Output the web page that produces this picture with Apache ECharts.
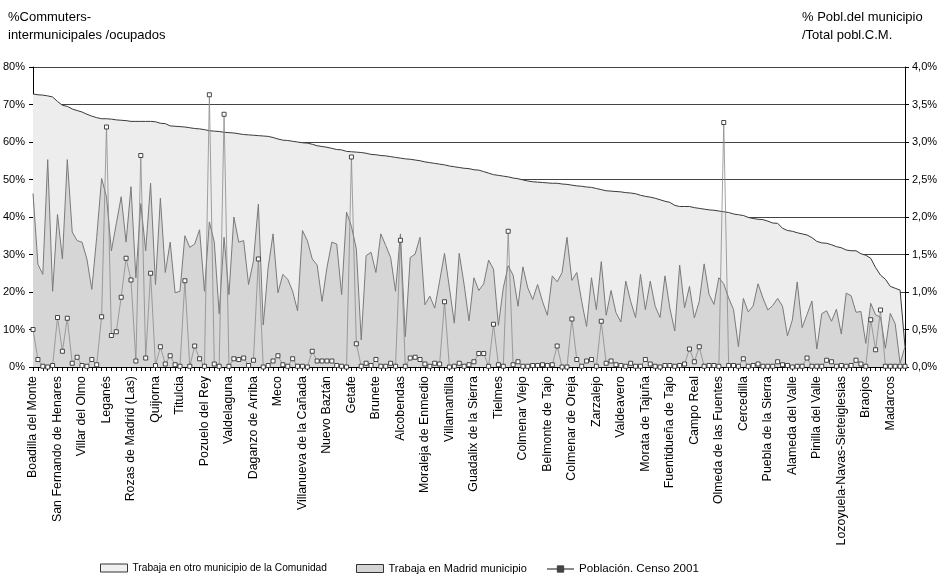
<!DOCTYPE html>
<html>
<head>
<meta charset="utf-8">
<script src="https://cdn.jsdelivr.net/npm/echarts@6/dist/echarts.min.js"></script>
<style>
html,body{margin:0;padding:0;background:#fff;}
#chart{width:941px;height:576px;}
</style>
</head>
<body>
<div id="chart"></div>
<script>
// Labels shown on the x axis (every 5th municipality)
const labels = ['Boadilla del Monte','San Fernando de Henares','Villar del Olmo','Leganés','Rozas de Madrid (Las)','Quijorna','Titulcia','Pozuelo del Rey','Valdelaguna','Daganzo de Arriba','Meco','Villanueva de la Cañada','Nuevo Baztán','Getafe','Brunete','Alcobendas','Moraleja de Enmedio','Villamantilla','Guadalix de la Sierra','Tielmes','Colmenar Viejo','Belmonte de Tajo','Colmenar de Oreja','Zarzalejo','Valdeavero','Morata de Tajuña','Fuentidueña de Tajo','Campo Real','Olmeda de las Fuentes','Cercedilla','Puebla de la Sierra','Alameda del Valle','Pinilla del Valle','Lozoyuela-Navas-Sieteiglesias','Braojos','Madarcos'];

// % commuters intermunicipales / ocupados (total, top line)
const total = [
72.8,72.6,72.5,72.3,72.0,70.8,69.8,69.5,68.8,68.4,
68.0,67.4,66.9,66.5,66.2,66.2,66.1,65.9,65.8,65.7,
65.5,65.5,65.5,65.5,65.5,65.4,65.0,64.9,64.3,64.2,
64.1,64.0,63.8,63.6,63.5,63.3,63.0,62.9,62.8,62.6,
62.5,62.4,62.2,62.0,61.9,61.8,61.7,61.6,61.5,61.2,
60.8,60.5,60.4,60.2,60.0,59.8,59.7,59.4,59.0,58.8,
58.6,58.3,58.0,57.9,57.5,57.4,57.3,57.2,57.0,56.7,
56.6,56.4,56.3,56.1,55.9,55.7,55.5,55.4,55.2,55.0,
54.7,54.5,54.3,54.1,53.9,53.6,53.4,53.2,53.0,52.9,
52.6,52.5,52.1,51.7,51.3,51.1,50.9,50.7,50.4,50.2,
49.9,49.6,49.4,49.3,49.2,49.1,49.0,49.0,48.8,48.7,
48.5,48.3,48.2,48.0,47.9,47.6,47.3,47.0,46.9,46.8,
46.7,46.5,46.4,46.2,45.8,45.5,45.3,45.0,44.6,44.2,
43.9,43.1,42.8,42.8,42.8,42.5,42.3,42.1,41.9,41.8,
41.6,41.4,41.2,40.8,40.6,40.4,39.9,39.6,39.4,39.3,
38.9,38.4,38.3,37.0,36.4,36.2,35.8,35.5,35.2,34.5,
33.5,33.1,33.0,32.6,32.1,31.8,31.2,31.0,31.0,30.2,
29.8,29.0,26.5,24.5,23.4,21.5,21.0,20.5,5.4
];

// % trabaja en Madrid municipio
const madrid = [
46.3,27.4,24.7,55.3,20.2,40.7,28.8,55.3,36.0,33.7,
33.3,28.8,20.7,34.6,50.3,45.4,31.0,38.2,45.4,33.3,
48.1,23.8,43.6,31.0,49.0,22.0,45.0,25.2,33.3,19.8,
20.2,35.0,31.9,32.8,36.6,20.2,38.7,33.3,14.2,34.6,
19.3,40.0,33.3,33.7,22.0,28.3,43.4,11.2,26.5,35.5,
19.8,24.7,23.4,20.2,15.0,36.4,33.7,28.8,27.2,17.5,
26.5,33.3,32.8,19.3,41.3,37.5,31.5,7.2,29.7,30.6,
25.2,35.5,32.4,29.2,20.2,35.5,8.1,29.2,30.1,34.6,
16.6,18.9,15.7,22.9,30.3,21.1,11.7,30.3,22.0,12.3,
23.8,20.4,22.2,28.5,26.1,11.1,21.1,27.0,24.5,16.2,
26.7,21.1,18.0,22.0,17.5,13.8,24.3,22.7,25.2,34.6,
23.1,25.2,17.5,10.8,23.8,15.3,28.1,13.8,20.4,14.5,
12.0,22.9,17.5,13.2,24.7,15.3,22.9,16.2,13.2,24.3,
15.7,9.6,27.2,15.8,21.5,13.1,17.5,27.5,19.4,16.7,
23.8,22.2,18.4,15.3,5.4,18.3,14.7,16.3,22.2,18.4,
15.2,16.4,18.3,16.2,8.3,12.5,22.7,10.5,14.0,17.6,
4.8,14.2,15.0,12.2,15.4,8.8,19.7,19.0,14.6,14.8,
6.3,17.0,13.9,13.3,5.0,14.3,11.5,1.0,5.4
];

// % población del municipio / total población C.M. (Censo 2001)
const poblacion = [
0.50,0.10,0.01,0.00,0.02,0.66,0.21,0.65,0.05,0.13,
0.02,0.01,0.10,0.03,0.67,3.20,0.42,0.47,0.93,1.45,
1.16,0.08,2.82,0.12,1.25,0.02,0.27,0.04,0.15,0.03,
0.01,1.15,0.01,0.28,0.11,0.01,3.63,0.04,0.01,3.37,
0.01,0.11,0.10,0.12,0.02,0.09,1.44,0.00,0.02,0.08,
0.15,0.03,0.01,0.11,0.01,0.01,0.00,0.21,0.08,0.08,
0.08,0.08,0.02,0.01,0.00,2.80,0.31,0.01,0.05,0.02,
0.10,0.01,0.01,0.05,0.01,1.69,0.01,0.12,0.13,0.10,
0.04,0.01,0.05,0.04,0.87,0.00,0.01,0.05,0.01,0.03,
0.07,0.18,0.18,0.01,0.57,0.03,0.01,1.81,0.03,0.07,
0.01,0.01,0.02,0.02,0.03,0.02,0.03,0.28,0.00,0.00,
0.64,0.10,0.01,0.08,0.10,0.01,0.61,0.05,0.08,0.03,
0.02,0.01,0.05,0.01,0.01,0.10,0.04,0.01,0.00,0.02,
0.02,0.01,0.02,0.04,0.24,0.07,0.27,0.01,0.02,0.02,
0.01,3.26,0.02,0.02,0.01,0.11,0.01,0.02,0.04,0.01,
0.01,0.01,0.07,0.03,0.02,0.00,0.01,0.01,0.12,0.01,
0.01,0.01,0.09,0.07,0.01,0.02,0.01,0.02,0.09,0.04,
0.01,0.63,0.23,0.76,0.01,0.01,0.01,0.01,0.01
];

const leftTicks = [0,10,20,30,40,50,60,70,80];
const rightTicks = [0,0.5,1,1.5,2,2.5,3,3.5,4];

const categories = total.map((_, i) => (i % 5 === 0 && labels[i / 5]) ? labels[i / 5] : '');
const otro = total.map((t, i) => +(t - madrid[i]).toFixed(1));

const NAME_OTRO = 'Trabaja en otro municipio de la Comunidad';
const NAME_MAD = 'Trabaja en Madrid municipio';
const NAME_POB = 'Población. Censo 2001';
const FONT = 'Liberation Sans, Arial, Helvetica, sans-serif';
const legendBase = {top: 563, padding: 0, itemWidth: 27, itemHeight: 8, itemGap: 4};

const chart = echarts.init(document.getElementById('chart'), null, {renderer: 'canvas'});
chart.setOption({
  animation: false,
  backgroundColor: '#ffffff',
  textStyle: {fontFamily: FONT, color: '#000'},
  grid: {left: 31, right: 36, top: 67, bottom: 209, containLabel: false},
  graphic: [
    {type: 'text', left: 8, top: 8, style: {text: '%Commuters-\nintermunicipales /ocupados', font: '13px ' + FONT, fill: '#000', lineHeight: 18}},
    {type: 'text', left: 802, top: 8, style: {text: '% Pobl.del municipio\n/Total pobl.C.M.', font: '13px ' + FONT, fill: '#000', lineHeight: 18}}
  ],
  legend: [
    Object.assign({left: 100, textStyle: {fontSize: 10.2, fontFamily: FONT, color: '#000'},
      data: [{name: NAME_OTRO, icon: 'rect', itemStyle: {color: '#f0f0f0', borderColor: '#333', borderWidth: 1}}]}, legendBase),
    Object.assign({left: 356, textStyle: {fontSize: 11, fontFamily: FONT, color: '#000'},
      data: [{name: NAME_MAD, icon: 'rect', itemStyle: {color: '#d4d4d4', borderColor: '#333', borderWidth: 1}}]}, legendBase),
    Object.assign({left: 546, textStyle: {fontSize: 11.6, fontFamily: FONT, color: '#000'},
      data: [{name: NAME_POB, itemStyle: {color: '#444', borderColor: '#333', borderWidth: 0.8}}]}, legendBase)
  ],
  xAxis: [
    {
      type: 'category', data: categories, boundaryGap: false, position: 'bottom',
      axisLine: {show: true, lineStyle: {color: '#000', width: 1}},
      axisTick: {show: true, interval: 0, length: 4, lineStyle: {color: '#000'}},
      axisLabel: {interval: 4, rotate: 90, margin: 9, fontSize: 12.4, fontFamily: FONT, color: '#000'},
      splitLine: {show: false}
    },
    {
      type: 'category', data: categories, boundaryGap: false, position: 'bottom',
      axisLine: {show: false},
      axisTick: {show: true, inside: true, interval: 0, length: 2, lineStyle: {color: '#000'}},
      axisLabel: {show: false},
      splitLine: {show: false}
    }
  ],
  yAxis: [
    {
      type: 'value', min: leftTicks[0], max: leftTicks[leftTicks.length - 1], interval: 10, position: 'left',
      axisLine: {show: true, lineStyle: {color: '#000'}},
      axisTick: {show: true, length: 4, lineStyle: {color: '#000'}},
      axisLabel: {formatter: '{value}%', fontSize: 11, fontFamily: FONT, color: '#000', margin: 8},
      splitLine: {show: true, lineStyle: {color: '#444', width: 1}}
    },
    {
      type: 'value', min: rightTicks[0], max: rightTicks[rightTicks.length - 1], interval: 0.5, position: 'right',
      axisLine: {show: true, lineStyle: {color: '#000'}},
      axisTick: {show: true, length: 4, lineStyle: {color: '#000'}},
      axisLabel: {formatter: v => v.toFixed(1).replace('.', ',') + '%', fontSize: 11, fontFamily: FONT, color: '#000', margin: 7},
      splitLine: {show: false}
    }
  ],
  series: [
    {
      name: NAME_MAD, type: 'line', stack: 'c', data: madrid, xAxisIndex: 0, yAxisIndex: 0,
      symbol: 'none', z: 3,
      lineStyle: {color: '#7a7a7a', width: 1},
      itemStyle: {color: '#d4d4d4'},
      areaStyle: {color: '#d6d6d6', opacity: 1}
    },
    {
      name: NAME_OTRO, type: 'line', stack: 'c', data: otro, xAxisIndex: 0, yAxisIndex: 0,
      symbol: 'none', z: 2,
      lineStyle: {color: '#3a3a3a', width: 1},
      itemStyle: {color: '#f0f0f0'},
      areaStyle: {color: '#ededed', opacity: 1}
    },
    {
      name: NAME_POB, type: 'line', data: poblacion, xAxisIndex: 0, yAxisIndex: 1,
      symbol: 'rect', symbolSize: 4, showSymbol: true, showAllSymbol: true, z: 4,
      lineStyle: {color: '#8a8a8a', width: 0.8},
      itemStyle: {color: '#ffffff', borderColor: '#333', borderWidth: 0.9}
    }
  ]
});
</script>
</body>
</html>
